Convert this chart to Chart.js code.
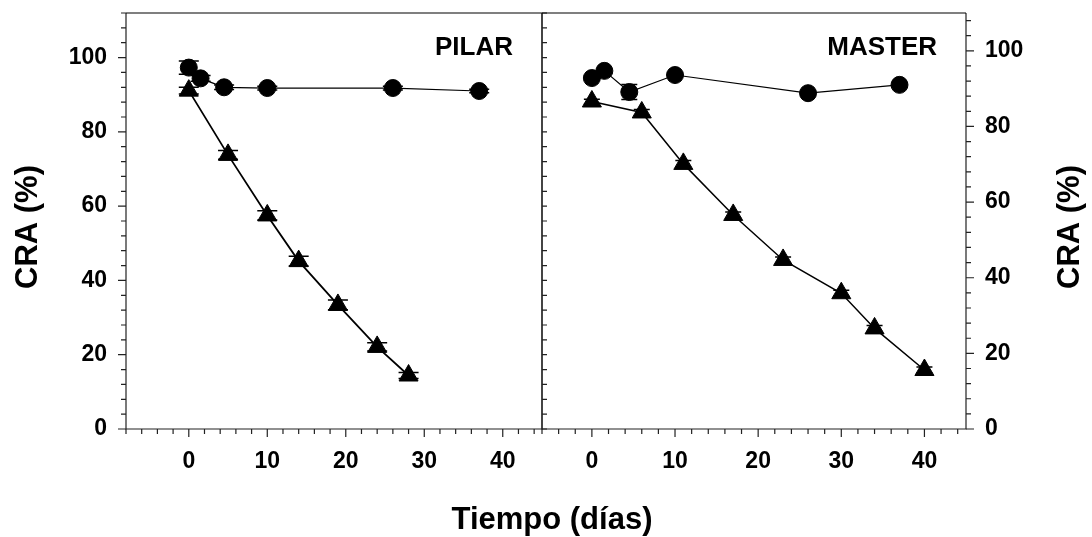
<!DOCTYPE html>
<html>
<head>
<meta charset="utf-8">
<script src="https://cdn.jsdelivr.net/npm/chart.js@4/dist/chart.umd.min.js"></script>
<style>
html, body { margin: 0; padding: 0; background: #fff; }
#wrap { position: relative; width: 1092px; height: 537px; background: #fff; }
#wrap canvas { position: absolute; left: 0; top: 0; }
</style>
</head>
<body>
<div id="wrap">
    <canvas id="pilarChart" width="1092" height="537"></canvas>
    <canvas id="masterChart" width="1092" height="537"></canvas>
</div>
<script>
// PILAR panel
const pilarCircleDays = [0, 1.5, 4.5, 10, 26, 37];
const pilarCircleCra = [97.3, 94.4, 92.0, 91.8, 91.8, 91.0];
const pilarCircleErr = [1.8, 0.8, 0.6, 0.5, 0.5, 0.5];
const pilarTriDays = [0, 5, 10, 14, 19, 24, 28];
const pilarTriCra = [91.1, 73.8, 57.5, 45.2, 33.4, 22.1, 14.4];
const pilarTriErr = [0.9, 1.2, 1.25, 1.3, 1.3, 1.1, 0.8];

// MASTER panel
const masterCircleDays = [0, 1.5, 4.5, 10, 26, 37];
const masterCircleCra = [92.8, 94.7, 89.1, 93.6, 88.8, 91.0];
const masterCircleErr = [0.5, 0.5, 2.0, 0.5, 0.5, 0.5];
const masterTriDays = [0, 6, 11, 17, 23, 30, 34, 40];
const masterTriCra = [86.6, 83.7, 70.1, 56.6, 44.7, 35.9, 26.6, 15.6];
const masterTriErr = [0.6, 0.8, 0.9, 0.8, 0.8, 0.8, 0.8, 0.8];

const xTickLabels = [0, 10, 20, 30, 40];
const yTickLabels = [0, 20, 40, 60, 80, 100];

const FONT = '"Liberation Sans", Arial, Helvetica, sans-serif';
Chart.defaults.font.family = FONT;

function series(days, vals, errs, style, radius, lw) {
    return {
        data: days.map((d, i) => ({ x: d, y: vals[i] })),
        errors: errs,
        showLine: true,
        tension: 0,
        borderColor: '#000',
        backgroundColor: '#000',
        borderWidth: lw,
        pointStyle: style,
        pointRadius: radius,
        pointHoverRadius: radius,
        pointBorderWidth: 1,
        pointBorderColor: '#000',
        pointBackgroundColor: '#000'
    };
}

const framePlugin = {
    id: 'frame',
    beforeDatasetsDraw(chart) {
        const o = chart.options.plugins.frame;
        const { ctx, scales: { x, y } } = chart;
        ctx.save();
        ctx.strokeStyle = '#000';
        ctx.lineWidth = 1.5;
        chart.data.datasets.forEach(ds => {
            ds.data.forEach((p, i) => {
                const e = ds.errors[i];
                const px = x.getPixelForValue(p.x);
                const top = y.getPixelForValue(p.y + e);
                const bot = y.getPixelForValue(p.y - e);
                ctx.beginPath();
                ctx.moveTo(px, top); ctx.lineTo(px, bot);
                ctx.moveTo(px - o.cap, top); ctx.lineTo(px + o.cap, top);
                ctx.moveTo(px - o.cap, bot); ctx.lineTo(px + o.cap, bot);
                ctx.stroke();
            });
        });
        ctx.restore();
    },
    afterDraw(chart) {
        const o = chart.options.plugins.frame;
        const { ctx, chartArea: a, scales: { x, y } } = chart;
        ctx.save();
        ctx.lineWidth = 1.2;
        ctx.strokeStyle = '#222';
        ctx.beginPath();
        ctx.moveTo(a.left, a.top); ctx.lineTo(a.left, a.bottom);
        ctx.lineTo(a.right, a.bottom); ctx.lineTo(a.right, a.top);
        ctx.stroke();
        ctx.strokeStyle = '#000';
        ctx.beginPath();
        ctx.moveTo(a.left, a.top); ctx.lineTo(a.right, a.top);
        ctx.stroke();

        // tick marks
        ctx.strokeStyle = '#222';
        ctx.beginPath();
        for (let v = Math.ceil(x.min / 2) * 2; v <= x.max; v += 2) {
            const px = x.getPixelForValue(v);
            const len = v % 10 === 0 ? 8 : 5;
            ctx.moveTo(px, a.bottom); ctx.lineTo(px, a.bottom + len);
        }
        const axisX = o.side === 'left' ? a.left : a.right;
        const dir = o.side === 'left' ? -1 : 1;
        for (let v = 0; v <= y.max; v += 4) {
            const py = y.getPixelForValue(v);
            const len = v % 20 === 0 ? 8 : 5;
            ctx.moveTo(axisX, py); ctx.lineTo(axisX + dir * len, py);
            if (o.side === 'left') {
                ctx.moveTo(a.right, py); ctx.lineTo(a.right + 5, py);
            }
        }
        ctx.stroke();

        // panel label
        ctx.fillStyle = '#000';
        ctx.font = 'bold 26px ' + FONT;
        ctx.textAlign = 'right';
        ctx.textBaseline = 'alphabetic';
        ctx.fillText(o.label, a.right - 29, 55);

        // y title
        ctx.save();
        ctx.translate(o.titleX, 227);
        ctx.rotate(-Math.PI / 2);
        ctx.font = 'bold 31px ' + FONT;
        ctx.textAlign = 'center';
        ctx.textBaseline = 'middle';
        ctx.fillText('CRA (%)', 0, 0);
        ctx.restore();

        if (o.xTitle) {
            ctx.font = 'bold 31px ' + FONT;
            ctx.textAlign = 'center';
            ctx.textBaseline = 'alphabetic';
            ctx.fillText(o.xTitle, 552, 529);
        }
        ctx.restore();
    }
};

function makeChart(id, opts) {
    const ctx = document.getElementById(id).getContext('2d');
    return new Chart(ctx, {
        type: 'scatter',
        data: { datasets: opts.datasets },
        options: {
            responsive: false,
            animation: false,
            layout: { padding: opts.padding },
            plugins: {
                legend: { display: false },
                tooltip: { enabled: false },
                frame: opts.frame
            },
            scales: {
                x: {
                    type: 'linear',
                    position: 'bottom',
                    min: opts.xMin,
                    max: 45,
                    afterBuildTicks: s => { s.ticks = xTickLabels.map(v => ({ value: v })); },
                    afterFit: s => { s.height = 108; s.paddingLeft = 0; s.paddingRight = 0; },
                    grid: { display: false, drawTicks: false },
                    border: { display: false },
                    ticks: { color: '#000', font: { size: 23, weight: 'bold' }, padding: 19, autoSkip: false, maxRotation: 0 }
                },
                y: {
                    type: 'linear',
                    position: opts.frame.side,
                    min: 0,
                    max: opts.yMax,
                    afterBuildTicks: s => { s.ticks = yTickLabels.map(v => ({ value: v })); },
                    afterFit: s => { s.width = 126; s.paddingTop = 0; s.paddingBottom = 0; },
                    grid: { display: false, drawTicks: false },
                    border: { display: false },
                    ticks: { color: '#000', font: { size: 23, weight: 'bold' }, padding: 19, autoSkip: false }
                }
            }
        },
        plugins: [framePlugin]
    });
}

makeChart('pilarChart', {
    datasets: [
        series(pilarTriDays, pilarTriCra, pilarTriErr, 'triangle', 11, 1.8),
        series(pilarCircleDays, pilarCircleCra, pilarCircleErr, 'circle', 8.5, 1.2)
    ],
    padding: { top: 13, right: 550, bottom: 0, left: 0 },
    xMin: -8,
    yMax: 112,
    frame: { side: 'left', label: 'PILAR', cap: 10, titleX: 28, xTitle: 'Tiempo (días)' }
});

makeChart('masterChart', {
    datasets: [
        series(masterTriDays, masterTriCra, masterTriErr, 'triangle', 11, 1.5),
        series(masterCircleDays, masterCircleCra, masterCircleErr, 'circle', 8.5, 1.2)
    ],
    padding: { top: 13, right: 0, bottom: 0, left: 542 },
    xMin: -6,
    yMax: 110,
    frame: { side: 'right', label: 'MASTER', cap: 8, titleX: 1070, xTitle: '' }
});
</script>
</body>
</html>
